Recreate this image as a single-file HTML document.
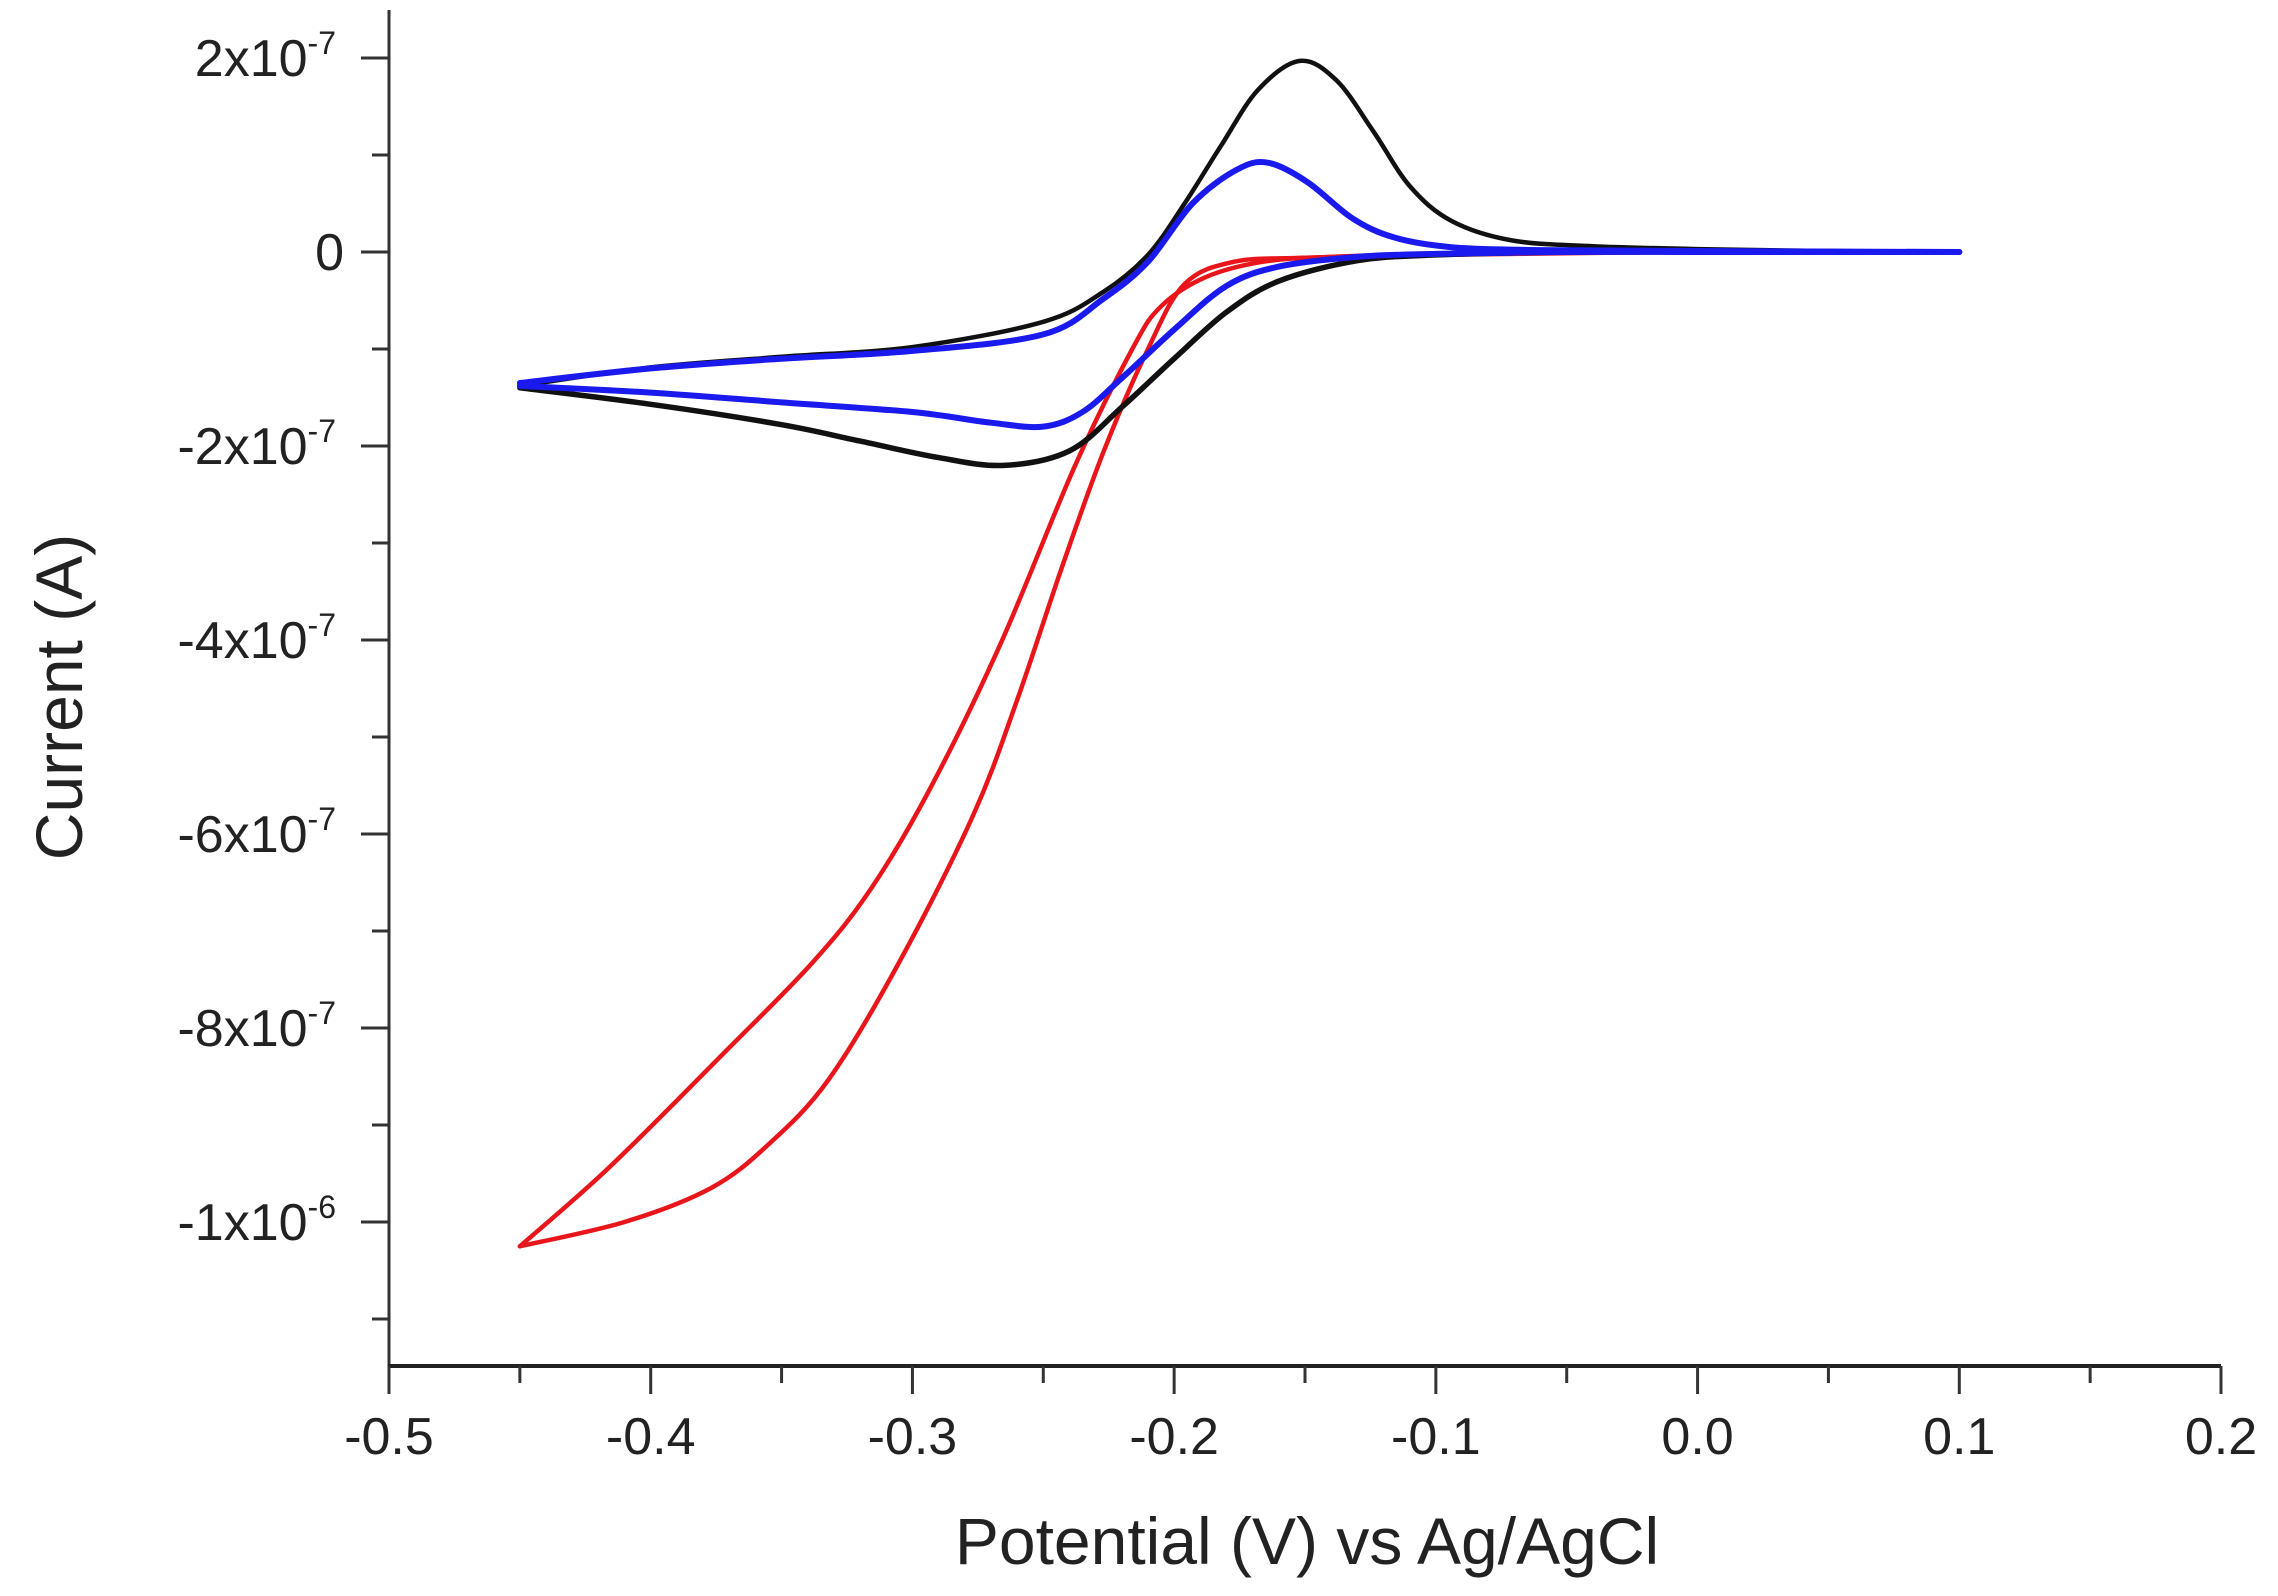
<!DOCTYPE html>
<html><head><meta charset="utf-8"><style>
body{margin:0;background:#fff}
svg{display:block}
text{font-family:"Liberation Sans",Arial,sans-serif;fill:#222}
</style></head><body>
<svg id="chart" width="2278" height="1596" viewBox="0 0 2278 1596" xmlns="http://www.w3.org/2000/svg">
<g id="axes"></g>
<g id="series"></g>
<text x="1307" y="1564" font-size="66" text-anchor="middle">Potential (V) vs Ag/AgCl</text>
<text x="0" y="0" font-size="66" text-anchor="middle" transform="translate(82,697) rotate(-90)">Current (A)</text>
</svg>
<script>
// x values (V), y values (units of 1e-7 A)
const xTicks = [-0.5,-0.4,-0.3,-0.2,-0.1,0.0,0.1,0.2];
const xTickLabels = ["-0.5","-0.4","-0.3","-0.2","-0.1","0.0","0.1","0.2"];
const yTicks = [2,0,-2,-4,-6,-8,-10];
const yTickMant = ["2x10","0","-2x10","-4x10","-6x10","-8x10","-1x10"];
const yTickExp = ["-7","","-7","-7","-7","-7","-6"];

const blackUpperX = [-0.45,-0.40,-0.35,-0.30,-0.25,-0.227,-0.21,-0.196,-0.182,-0.168,-0.152,-0.138,-0.124,-0.11,-0.094,-0.071,-0.04,0.0,0.05,0.1];
const blackUpperY = [-1.38,-1.19,-1.08,-0.98,-0.72,-0.41,-0.03,0.5,1.1,1.67,1.97,1.77,1.25,0.68,0.32,0.12,0.06,0.03,0.01,0];
const blackLowerX = [0.1,0.0,-0.05,-0.1,-0.13,-0.16,-0.18,-0.2,-0.22,-0.24,-0.265,-0.29,-0.32,-0.35,-0.40,-0.45];
const blackLowerY = [0,0,0,-0.03,-0.09,-0.3,-0.62,-1.1,-1.6,-2.05,-2.2,-2.12,-1.95,-1.78,-1.57,-1.4];

const blueUpperX = [-0.45,-0.40,-0.35,-0.30,-0.25,-0.227,-0.21,-0.193,-0.176,-0.164,-0.149,-0.132,-0.116,-0.094,-0.06,0.0,0.1];
const blueUpperY = [-1.35,-1.2,-1.1,-1.02,-0.85,-0.48,-0.1,0.5,0.85,0.92,0.72,0.35,0.15,0.05,0.02,0.01,0];
const blueLowerX = [0.1,0.0,-0.05,-0.1,-0.13,-0.16,-0.18,-0.2,-0.22,-0.235,-0.25,-0.27,-0.3,-0.35,-0.4,-0.45];
const blueLowerY = [0,0,0,-0.02,-0.05,-0.15,-0.35,-0.8,-1.3,-1.65,-1.8,-1.76,-1.65,-1.55,-1.45,-1.38];

const redFwdX = [0.1,0.0,-0.1,-0.15,-0.177,-0.196,-0.21,-0.227,-0.243,-0.26,-0.277,-0.305,-0.332,-0.355,-0.377,-0.41,-0.45];
const redFwdY = [0,0,-0.03,-0.06,-0.1,-0.33,-1.0,-2.06,-3.26,-4.62,-5.82,-7.32,-8.53,-9.2,-9.65,-10.0,-10.25];
const redRevX = [-0.45,-0.4156,-0.371,-0.338,-0.316,-0.293,-0.266,-0.238,-0.216,-0.205,-0.188,-0.166,-0.14,-0.1,0.0,0.1];
const redRevY = [-10.25,-9.43,-8.23,-7.32,-6.57,-5.52,-4.02,-2.21,-1.0,-0.56,-0.26,-0.1,-0.05,-0.02,0,0];

const NS="http://www.w3.org/2000/svg";
const X0=389,X1=2221,YTOP=10,YBOT=1366;
function sx(v){return X0+(v+0.5)/0.7*(X1-X0);}
function sy(v){return 252-v*97;}
function mk(tag,attrs,parent){const e=document.createElementNS(NS,tag);for(const k in attrs)e.setAttribute(k,attrs[k]);parent.appendChild(e);return e;}
const axes=document.getElementById('axes');
const ser=document.getElementById('series');

const yl=mk('line',{x1:X0,y1:YTOP,x2:X0,y2:YBOT,stroke:'#333','stroke-width':3},axes);


const xl=mk('line',{x1:X0-1.5,y1:YBOT,x2:X1,y2:YBOT,stroke:'#222','stroke-width':4},axes);



for(let i=0;i<xTicks.length;i++){
  const x=sx(xTicks[i]);
  const t=mk('line',{x1:x,y1:YBOT,x2:x,y2:YBOT+28,stroke:'#333','stroke-width':3},axes);
  
  
  const lb=mk('text',{x:x,y:1454,'font-size':52,'text-anchor':'middle'},axes);
  lb.textContent=xTickLabels[i];
  
  
  if(i<xTicks.length-1){
    const xm=sx(xTicks[i]+0.05);
    const m=mk('line',{x1:xm,y1:YBOT,x2:xm,y2:YBOT+17,stroke:'#333','stroke-width':3},axes);
    
    
  }
}
for(let i=0;i<yTicks.length;i++){
  const y=sy(yTicks[i]);
  const t=mk('line',{x1:X0-28,y1:y,x2:X0,y2:y,stroke:'#333','stroke-width':3},axes);
  
  
  const lb=mk('text',{x:yTickExp[i]?336:344,y:y+18,'font-size':52,'text-anchor':'end'},axes);
  
  
  lb.appendChild(document.createTextNode(yTickMant[i]));
  if(yTickExp[i]){const s=document.createElementNS(NS,'tspan');s.setAttribute('dy','-22');s.setAttribute('font-size','32');s.textContent=yTickExp[i];lb.appendChild(s);}
  const ym=sy(yTicks[i]-1);
  if(ym<YBOT){
    const m=mk('line',{x1:X0-17,y1:ym,x2:X0,y2:ym,stroke:'#333','stroke-width':3},axes);
    
    
  }
}
const ym2=sy(1);
const m2=mk('line',{x1:X0-17,y1:ym2,x2:X0,y2:ym2,stroke:'#333','stroke-width':3},axes);



function pathFrom(xs,ys){
  const p=xs.map((v,i)=>[sx(v),sy(ys[i])]);
  let d='M'+p[0][0].toFixed(1)+','+p[0][1].toFixed(1);
  for(let i=0;i<p.length-1;i++){
    const p0=p[Math.max(0,i-1)],p1=p[i],p2=p[i+1],p3=p[Math.min(p.length-1,i+2)];
    const c1=[p1[0]+(p2[0]-p0[0])/6,p1[1]+(p2[1]-p0[1])/6];
    const c2=[p2[0]-(p3[0]-p1[0])/6,p2[1]-(p3[1]-p1[1])/6];
    d+=' C'+c1[0].toFixed(1)+','+c1[1].toFixed(1)+' '+c2[0].toFixed(1)+','+c2[1].toFixed(1)+' '+p2[0].toFixed(1)+','+p2[1].toFixed(1);
  }
  return d;
}
function draw(xs,ys,color,w,name){
  const e=mk('path',{d:pathFrom(xs,ys),fill:'none',stroke:color,'stroke-width':w,'stroke-linejoin':'round','stroke-linecap':'round'},ser);
  
  
}
draw(redFwdX,redFwdY,'#e8161b',4.5,'red-series-forward');
draw(redRevX,redRevY,'#e8161b',4.5,'red-series-reverse');
draw(blackUpperX,blackUpperY,'#111',4.5,'black-series-anodic');
draw(blackLowerX,blackLowerY,'#111',5.5,'black-series-cathodic');
draw(blueUpperX,blueUpperY,'#1a1aee',6,'blue-series-anodic');
draw(blueLowerX,blueLowerY,'#1a1aee',6,'blue-series-cathodic');
</script>
</body></html>
